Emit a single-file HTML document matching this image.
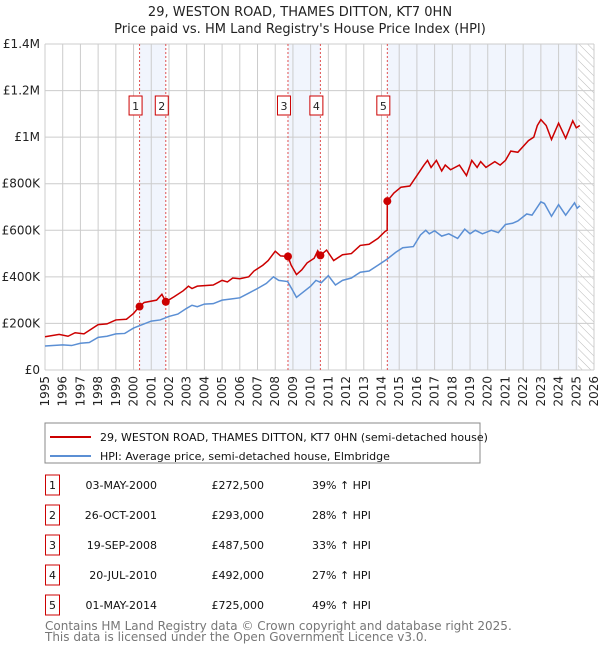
<!DOCTYPE html>
<html><head><meta charset="utf-8"><style>
body{margin:0;background:#fff;font-family:"Liberation Sans","DejaVu Sans",sans-serif;}
svg text{font-family:"DejaVu Sans","Liberation Sans",sans-serif;}
</style></head><body>
<svg id="c" width="600" height="650" xmlns="http://www.w3.org/2000/svg">
<defs><pattern id="hatch" width="6" height="6" patternUnits="userSpaceOnUse" patternTransform="rotate(-45)"><line x1="0" y1="0" x2="0" y2="6" stroke="#bbb" stroke-width="1"/></pattern></defs>
<text x="300" y="16" text-anchor="middle" font-size="13" fill="#222">29, WESTON ROAD, THAMES DITTON, KT7 0HN</text>
<text x="300" y="33" text-anchor="middle" font-size="13" fill="#222">Price paid vs. HM Land Registry's House Price Index (HPI)</text>
<g id="plot"></g>
<rect x="45" y="423" width="435" height="40" fill="#fff" stroke="#888"/>
<line x1="50" y1="437" x2="91" y2="437" stroke="#cc0000" stroke-width="2"/>
<text x="100" y="441" font-size="11" fill="#111">29, WESTON ROAD, THAMES DITTON, KT7 0HN (semi-detached house)</text>
<line x1="50" y1="456" x2="91" y2="456" stroke="#5b8fd4" stroke-width="2"/>
<text x="100" y="460" font-size="11" fill="#111">HPI: Average price, semi-detached house, Elmbridge</text>
<g id="table"></g>
<text x="45" y="630" font-size="12" fill="#777">Contains HM Land Registry data © Crown copyright and database right 2025.</text>
<text x="45" y="641" font-size="12" fill="#777">This data is licensed under the Open Government Licence v3.0.</text>
</svg>
<script>
const hpiYears=[1995,1996,1996.5,1997,1997.5,1998,1998.5,1999,1999.5,2000,2000.5,2001,2001.5,2002,2002.5,2003,2003.3,2003.6,2004,2004.5,2005,2005.5,2006,2006.5,2007,2007.5,2007.9,2008.2,2008.7,2009,2009.2,2009.5,2010,2010.3,2010.6,2011,2011.4,2011.8,2012.3,2012.8,2013.3,2013.8,2014.3,2014.8,2015.2,2015.8,2016.2,2016.5,2016.7,2017,2017.4,2017.8,2018.3,2018.7,2019,2019.3,2019.7,2020.2,2020.6,2021,2021.4,2021.7,2022.2,2022.5,2023,2023.2,2023.6,2024,2024.4,2024.9,2025.05,2025.2];
const hpiValues=[103,108,105,115,118,140,145,155,157,180,195,210,215,230,240,265,278,272,283,285,300,305,310,330,350,372,400,385,380,340,312,330,360,385,375,405,365,385,395,420,425,450,475,505,525,530,580,600,585,598,575,585,565,605,585,600,585,600,590,625,630,640,670,665,722,715,660,710,665,718,695,705];
const propYears=[1995,1995.8,1996.3,1996.7,1997.2,1997.6,1998,1998.5,1999,1999.6,2000,2000.33,2000.6,2001.3,2001.6,2001.82,2002.3,2002.8,2003.1,2003.3,2003.6,2004.5,2005,2005.3,2005.6,2006,2006.5,2006.8,2007.3,2007.6,2008,2008.3,2008.72,2008.9,2009.2,2009.5,2009.8,2010.2,2010.4,2010.55,2010.9,2011.3,2011.8,2012.3,2012.8,2013.3,2013.8,2014.2,2014.32,2014.33,2014.7,2015.1,2015.6,2016,2016.4,2016.6,2016.8,2017.1,2017.4,2017.6,2017.9,2018.4,2018.8,2019.1,2019.4,2019.6,2019.9,2020.4,2020.7,2021,2021.3,2021.7,2022.3,2022.6,2022.8,2023,2023.3,2023.6,2024,2024.4,2024.8,2025,2025.2];
const propValues=[143,153,145,160,155,175,195,198,215,218,243,272.5,290,300,325,293,315,340,360,350,360,365,385,378,395,392,400,425,450,470,510,490,487.5,450,410,430,460,480,512,492,515,470,495,500,535,540,565,595,600,725,760,785,790,835,880,900,870,900,855,880,860,880,835,900,870,895,870,895,880,900,940,935,985,1000,1050,1075,1050,990,1060,995,1070,1040,1050];
const saleLabels=["1","2","3","4","5"];
const saleYears=[2000.34,2001.82,2008.72,2010.55,2014.33];
const saleValues=[272.5,293,487.5,492,725];
const saleDates=["03-MAY-2000","26-OCT-2001","19-SEP-2008","20-JUL-2010","01-MAY-2014"];
const salePrices=["£272,500","£293,000","£487,500","£492,000","£725,000"];
const salePct=["39% ↑ HPI","28% ↑ HPI","33% ↑ HPI","27% ↑ HPI","49% ↑ HPI"];
const yTicks=[0,200,400,600,800,1000,1200,1400];
const yTickLabels=["£0","£200K","£400K","£600K","£800K","£1M","£1.2M","£1.4M"];
const shadeRanges=[[2000.34,2001.82],[2008.72,2010.55],[2014.33,2025.1]];

const X0=45,X1=594,Y0=370,Y1=44,xMin=1995,xMax=2026,yMax=1400;
const xs=v=>X0+(v-xMin)/(xMax-xMin)*(X1-X0);
const ys=v=>Y0-v/yMax*(Y0-Y1);
const NS="http://www.w3.org/2000/svg";
const plot=document.getElementById('plot');
function mk(tag,attrs,parent){const e=document.createElementNS(NS,tag);for(const k in attrs)e.setAttribute(k,attrs[k]);(parent||plot).appendChild(e);return e;}

shadeRanges.forEach(r=>{
  const e=mk('rect',{x:xs(r[0]),y:Y1,width:xs(r[1])-xs(r[0]),height:Y0-Y1,fill:'#eef3fc',opacity:0.8});
  
  
});
const h=mk('rect',{x:xs(2025.1),y:Y1,width:X1-xs(2025.1),height:Y0-Y1,fill:'url(#hatch)'});



for(let y=xMin;y<=xMax;y++){
  const g=mk('line',{x1:xs(y),x2:xs(y),y1:Y1,y2:Y0,stroke:'#ccc','stroke-width':1});
  
  
  const t=mk('text',{transform:`translate(${xs(y)+4},376) rotate(-90)`,'text-anchor':'end','font-size':12,fill:'#222'});
  t.textContent=y;
  
  
}
yTicks.forEach((v,i)=>{
  const g=mk('line',{x1:X0,x2:X1,y1:ys(v),y2:ys(v),stroke:'#ccc','stroke-width':1});
  
  
  const t=mk('text',{x:X0-5,y:ys(v)+4,'text-anchor':'end','font-size':12,fill:'#222'});
  t.textContent=yTickLabels[i];
  
  
});

saleYears.forEach((yr,i)=>{
  const l=mk('line',{x1:xs(yr),x2:xs(yr),y1:Y1,y2:Y0,stroke:'#e05050','stroke-width':1,'stroke-dasharray':'2,2'});
  
  
  const b=mk('rect',{x:xs(yr)-10.5,y:96,width:13,height:19,fill:'#fff',stroke:'#cc0000','stroke-width':1});
  
  
  const t=mk('text',{x:xs(yr)-4,y:110,'text-anchor':'middle','font-size':11,fill:'#222'});
  t.textContent=saleLabels[i];
  
  
});

const hp=mk('polyline',{points:hpiYears.map((y,i)=>xs(y)+','+ys(hpiValues[i])).join(' '),fill:'none',stroke:'#5b8fd4','stroke-width':1.5});


const pp=mk('polyline',{points:propYears.map((y,i)=>xs(y)+','+ys(propValues[i])).join(' '),fill:'none',stroke:'#cc0000','stroke-width':1.5});


saleYears.forEach((yr,i)=>{
  const c=mk('circle',{cx:xs(yr),cy:ys(saleValues[i]),r:4,fill:'#cc0000'});
  
  
});

const tbl=document.getElementById('table');
saleLabels.forEach((s,i)=>{
  const y=483+i*30;
  const b=mk('rect',{x:45.5,y:y-8,width:14,height:20,fill:'#fff',stroke:'#cc0000'},tbl);
  
  
  const cells=[[52.5,s,'middle'],[157,saleDates[i],'end'],[264,salePrices[i],'end'],[312,salePct[i],'start']];
  cells.forEach((c,j)=>{
    const t=mk('text',{x:c[0],y:y+6,'text-anchor':c[2],'font-size':11,fill:'#111'},tbl);
    t.textContent=c[1];
    
    
  });
});
</script>
</body></html>
